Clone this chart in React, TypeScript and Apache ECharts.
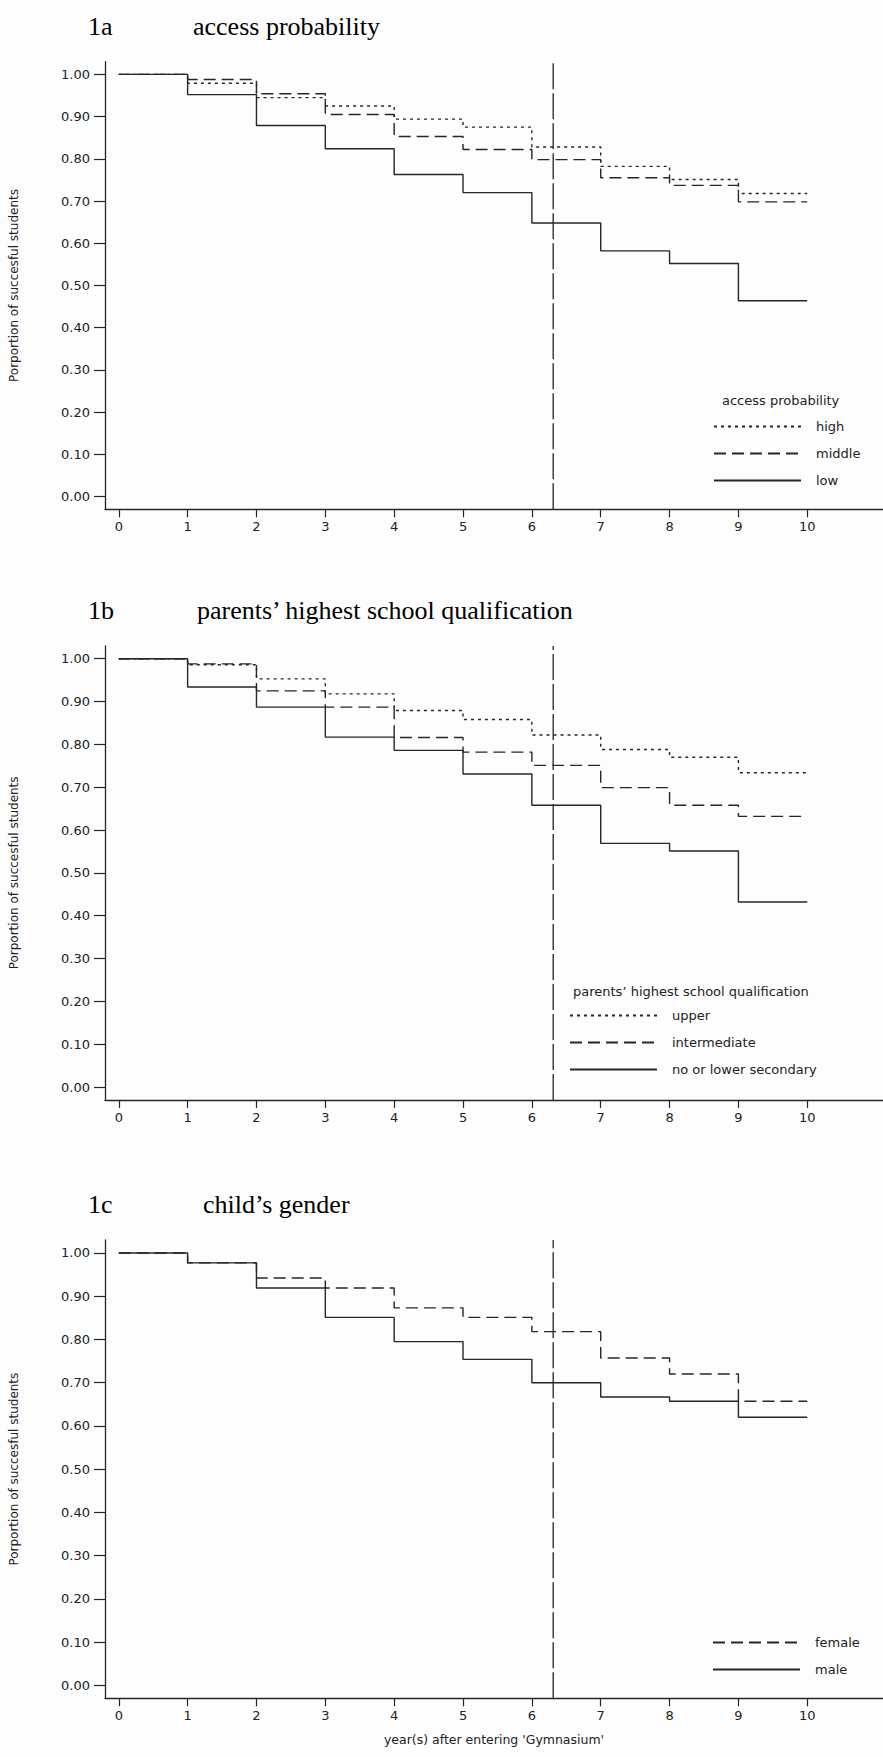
import React, { useEffect, useRef } from "react";
import * as echarts from "echarts";

// ---- data ----
const years = [0, 1, 2, 3, 4, 5, 6, 7, 8, 9, 10];
const yTicks = [0, 0.1, 0.2, 0.3, 0.4, 0.5, 0.6, 0.7, 0.8, 0.9, 1.0];
const cutoffYear = 6.31;

// values hold on [year i, year i+1]
const accessHigh = [1.0, 0.979, 0.945, 0.925, 0.894, 0.875, 0.828, 0.782, 0.751, 0.718];
const accessMiddle = [1.0, 0.988, 0.954, 0.905, 0.853, 0.822, 0.798, 0.755, 0.737, 0.698];
const accessLow = [1.0, 0.952, 0.879, 0.824, 0.763, 0.72, 0.648, 0.582, 0.552, 0.464];

const parentsUpper = [1.0, 0.986, 0.953, 0.918, 0.879, 0.858, 0.822, 0.788, 0.77, 0.734];
const parentsIntermediate = [1.0, 0.988, 0.925, 0.887, 0.816, 0.782, 0.751, 0.699, 0.658, 0.632];
const parentsLower = [1.0, 0.934, 0.887, 0.817, 0.786, 0.731, 0.658, 0.569, 0.551, 0.432];

const genderFemale = [1.0, 0.977, 0.942, 0.919, 0.873, 0.851, 0.818, 0.757, 0.72, 0.657];
const genderMale = [1.0, 0.977, 0.919, 0.851, 0.795, 0.754, 0.7, 0.667, 0.657, 0.62];

const yAxisTitle = "Porportion of succesful students";
const xAxisTitle = "year(s) after entering 'Gymnasium'";

// ---- styles ----
const INK = "#262626";
const SANS = "DejaVu Sans";
const SERIF = "Liberation Serif";
const DOTTED = [3, 4];
const DASHED = [12, 6];
const CUT = [26, 4];
const X_MIN = -0.2;
const X_MAX = 11.1;
const Y_MIN = -0.03;
const Y_MAX = 1.03;

function stepData(vals: number[]) {
  return years.map((x, i) => [x, vals[Math.min(i, vals.length - 1)]]);
}

type SeriesDef = { name: string; vals: number[]; dash: any };
type PanelDef = {
  tag: string;
  title: string;
  titleLeft: number;
  titleTop: number;
  gridTop: number;
  gridHeight: number;
  series: SeriesDef[];
  legendTitle?: string;
  legendTitleLeft?: number;
  legendTitleTop?: number;
  legendLeft: number;
  legendTop: number;
  showXName: boolean;
};

const panels: PanelDef[] = [
  {
    tag: "1a",
    title: "access probability",
    titleLeft: 193,
    titleTop: 13,
    gridTop: 61.7,
    gridHeight: 447.6,
    series: [
      { name: "high", vals: accessHigh, dash: DOTTED },
      { name: "middle", vals: accessMiddle, dash: DASHED },
      { name: "low", vals: accessLow, dash: "solid" },
    ],
    legendTitle: "access probability",
    legendTitleLeft: 722,
    legendTitleTop: 394,
    legendLeft: 713,
    legendTop: 420,
    showXName: false,
  },
  {
    tag: "1b",
    title: "parents\u2019 highest school qualification",
    titleLeft: 197,
    titleTop: 597,
    gridTop: 645.9,
    gridHeight: 454,
    series: [
      { name: "upper", vals: parentsUpper, dash: DOTTED },
      { name: "intermediate", vals: parentsIntermediate, dash: DASHED },
      { name: "no or lower secondary", vals: parentsLower, dash: "solid" },
    ],
    legendTitle: "parents\u2019 highest school qualification",
    legendTitleLeft: 573,
    legendTitleTop: 985,
    legendLeft: 569,
    legendTop: 1009,
    showXName: false,
  },
  {
    tag: "1c",
    title: "child\u2019s gender",
    titleLeft: 203,
    titleTop: 1191,
    gridTop: 1240,
    gridHeight: 458.3,
    series: [
      { name: "female", vals: genderFemale, dash: DASHED },
      { name: "male", vals: genderMale, dash: "solid" },
    ],
    legendLeft: 712,
    legendTop: 1636,
    showXName: true,
  },
];

function buildOption() {
  const grid: any[] = [];
  const xAxis: any[] = [];
  const yAxis: any[] = [];
  const series: any[] = [];
  const legend: any[] = [];
  const title: any[] = [];

  panels.forEach((p, i) => {
    grid.push({ left: 103, right: 0, top: p.gridTop, height: p.gridHeight, containLabel: false });
    xAxis.push({
      type: "value",
      gridIndex: i,
      min: X_MIN,
      max: X_MAX,
      position: "bottom",
      axisLine: { show: true, onZero: false, lineStyle: { color: INK, width: 1.3 } },
      axisTick: { show: true, customValues: years, length: 8, lineStyle: { color: INK, width: 1.2 } },
      axisLabel: {
        customValues: years,
        margin: 11,
        fontSize: 13,
        fontFamily: SANS,
        color: "#222",
      },
      splitLine: { show: false },
      name: p.showXName ? xAxisTitle : "",
      nameLocation: "middle",
      nameGap: 35,
      nameTextStyle: { fontSize: 12.5, fontFamily: SANS, color: "#222" },
    });
    yAxis.push({
      type: "value",
      gridIndex: i,
      min: Y_MIN,
      max: Y_MAX,
      axisLine: { show: true, onZero: false, lineStyle: { color: INK, width: 1.3 } },
      axisTick: { show: true, customValues: yTicks, length: 11, lineStyle: { color: INK, width: 1.2 } },
      axisLabel: {
        customValues: yTicks,
        formatter: (v: number) => v.toFixed(2),
        margin: 15,
        fontSize: 13,
        fontFamily: SANS,
        color: "#222",
      },
      splitLine: { show: false },
      name: yAxisTitle,
      nameLocation: "middle",
      nameRotate: 90,
      nameGap: 85,
      nameTextStyle: { fontSize: 12, fontFamily: SANS, color: "#222" },
    });
    p.series.forEach((s) => {
      series.push({
        name: s.name,
        type: "line",
        xAxisIndex: i,
        yAxisIndex: i,
        step: "end",
        symbol: "none",
        data: stepData(s.vals),
        lineStyle: { color: INK, width: 1.4, type: s.dash },
        itemStyle: { color: INK },
        z: 3,
      });
    });
    series.push({
      name: "cutoff-" + p.tag,
      type: "line",
      xAxisIndex: i,
      yAxisIndex: i,
      symbol: "none",
      data: [
        [cutoffYear, Y_MIN],
        [cutoffYear, Y_MAX],
      ],
      lineStyle: { color: "#333", width: 1.4, type: CUT },
      z: 2,
      silent: true,
    });
    legend.push({
      data: p.series.map((s) => s.name),
      orient: "vertical",
      left: p.legendLeft,
      top: p.legendTop,
      itemWidth: 87,
      itemHeight: 14,
      itemGap: 14,
      padding: 0,
      selectedMode: false,
      itemStyle: { opacity: 0, borderWidth: 0 },
      textStyle: { fontSize: 13, fontFamily: SANS, color: "#222", padding: [0, 0, 0, 10] },
    });
    const serifStyle = { fontFamily: SERIF, fontSize: 26, fontWeight: "normal", color: "#000" };
    title.push({ text: p.tag, left: 88, top: p.titleTop, padding: 0, textStyle: serifStyle });
    title.push({ text: p.title, left: p.titleLeft, top: p.titleTop, padding: 0, textStyle: serifStyle });
    if (p.legendTitle) {
      title.push({
        text: p.legendTitle,
        left: p.legendTitleLeft,
        top: p.legendTitleTop,
        padding: 0,
        textStyle: { fontFamily: SANS, fontSize: 13, fontWeight: "normal", color: "#222" },
      });
    }
  });

  return {
    animation: false,
    backgroundColor: "#fdfdfd",
    title,
    grid,
    xAxis,
    yAxis,
    legend,
    series,
  };
}

export default function App() {
  const ref = useRef<HTMLDivElement>(null);
  useEffect(() => {
    if (!ref.current) return;
    const chart = echarts.init(ref.current, undefined, { renderer: "svg" });
    chart.setOption(buildOption() as any);
    return () => chart.dispose();
  }, []);
  return (
    <div
      ref={ref}
      style={{ position: "absolute", left: 0, top: 0, width: 883, height: 1757 }}
    />
  );
}
